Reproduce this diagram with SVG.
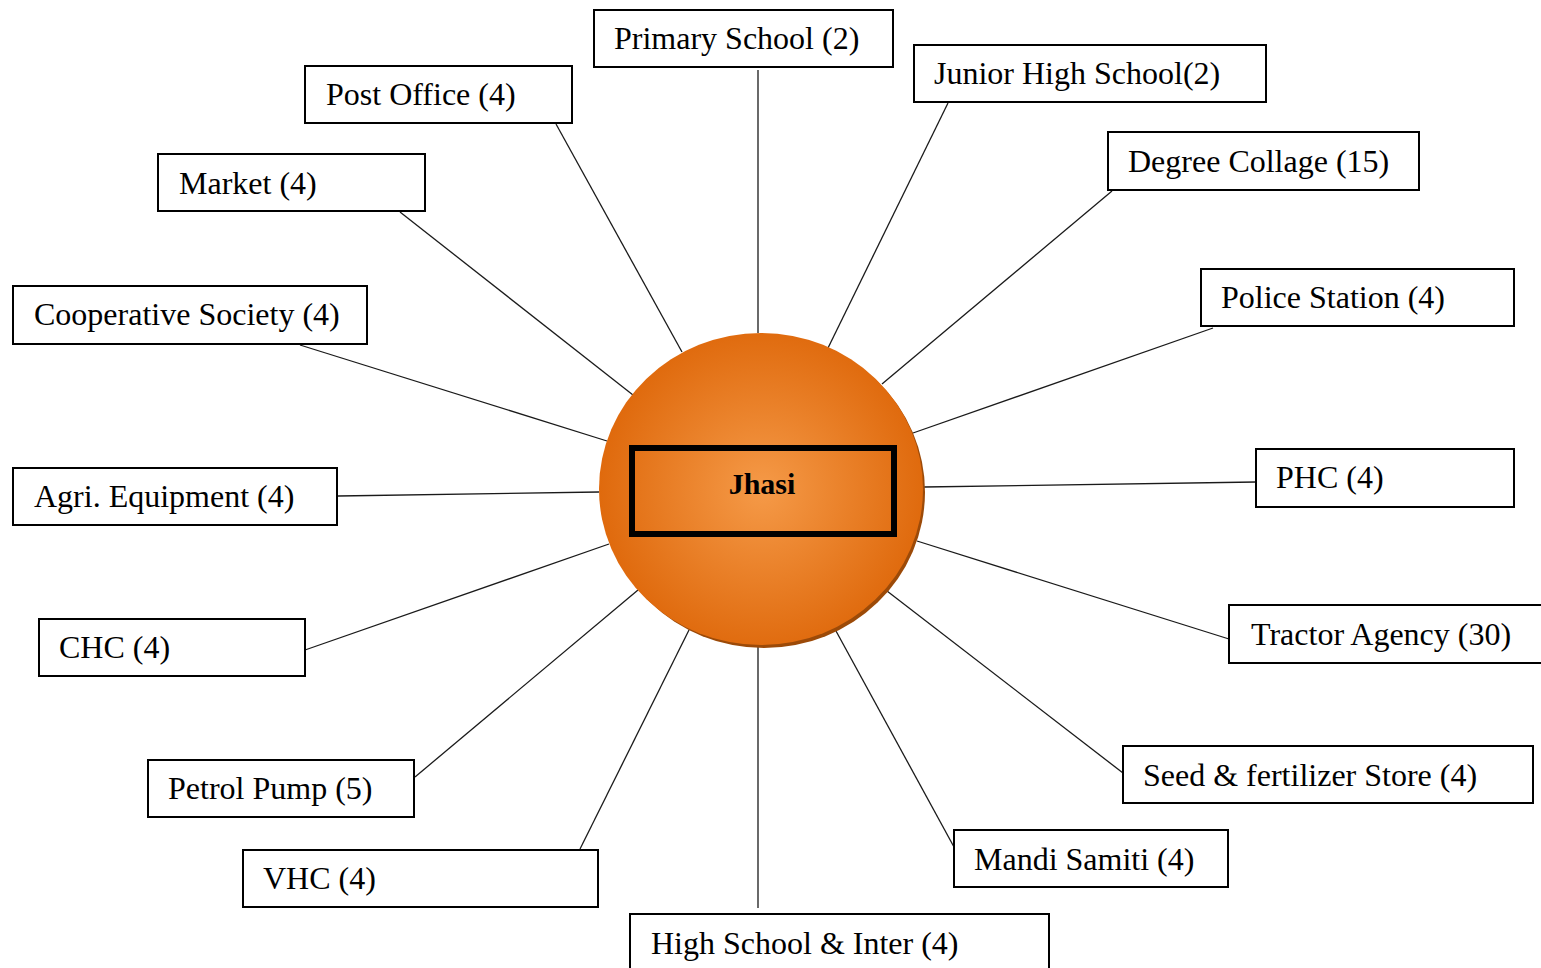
<svg xmlns="http://www.w3.org/2000/svg" width="1541" height="968" viewBox="0 0 1541 968">
<style>
.box{fill:#fff;stroke:#000;stroke-width:2}
.lbl{font-family:"Liberation Serif","Times New Roman",serif;font-size:32px;fill:#000}
.con line{stroke:#1a1a1a;stroke-width:1.3}
</style>
<defs>
<radialGradient id="og" cx="762" cy="490" r="165" gradientUnits="userSpaceOnUse">
<stop offset="0" stop-color="#F59A48"/>
<stop offset="1" stop-color="#DF690C"/>
</radialGradient>
</defs>
<rect width="1541" height="968" fill="#fff"/>
<g id="connectors" class="con">
<line x1="758" y1="70" x2="758" y2="333"/>
<line x1="556" y1="124" x2="682" y2="352"/>
<line x1="948" y1="103" x2="828" y2="348"/>
<line x1="400" y1="212" x2="633" y2="395"/>
<line x1="1112" y1="191" x2="882" y2="384"/>
<line x1="300" y1="345" x2="607" y2="441"/>
<line x1="1213" y1="328" x2="913" y2="433"/>
<line x1="338" y1="496" x2="599" y2="492"/>
<line x1="1256" y1="482" x2="924" y2="487"/>
<line x1="305" y1="650" x2="609" y2="544"/>
<line x1="1229" y1="639" x2="917" y2="541"/>
<line x1="415" y1="777" x2="638" y2="590"/>
<line x1="1123" y1="773" x2="887" y2="591"/>
<line x1="580" y1="849" x2="689" y2="630"/>
<line x1="954" y1="847" x2="836" y2="631"/>
<line x1="758" y1="908" x2="758" y2="646"/>
</g>
<g id="center">
<ellipse cx="764" cy="492" rx="161" ry="156" fill="#9C4A08"/>
<ellipse cx="761" cy="489" rx="162" ry="156" fill="url(#og)"/>
<rect x="632" y="448" width="262" height="86" fill="none" stroke="#000" stroke-width="6"/>
<text x="762" y="494" text-anchor="middle" font-family="'Liberation Serif','Times New Roman',serif" font-size="30" font-weight="bold">Jhasi</text>
</g>
<g id="n-primary"><rect class="box" x="594" y="10" width="299" height="57"/><text class="lbl" x="614" y="49">Primary School (2)</text></g>
<g id="n-post"><rect class="box" x="305" y="66" width="267" height="57"/><text class="lbl" x="326" y="105">Post Office (4)</text></g>
<g id="n-junior"><rect class="box" x="914" y="45" width="352" height="57"/><text class="lbl" x="934" y="84">Junior High School(2)</text></g>
<g id="n-market"><rect class="box" x="158" y="154" width="267" height="57"/><text class="lbl" x="179" y="194">Market (4)</text></g>
<g id="n-degree"><rect class="box" x="1108" y="132" width="311" height="58"/><text class="lbl" x="1128" y="172">Degree Collage (15)</text></g>
<g id="n-coop"><rect class="box" x="13" y="286" width="354" height="58"/><text class="lbl" x="34" y="325">Cooperative Society (4)</text></g>
<g id="n-police"><rect class="box" x="1201" y="269" width="313" height="57"/><text class="lbl" x="1221" y="308">Police Station (4)</text></g>
<g id="n-agri"><rect class="box" x="13" y="468" width="324" height="57"/><text class="lbl" x="34" y="507">Agri. Equipment (4)</text></g>
<g id="n-phc"><rect class="box" x="1256" y="449" width="258" height="58"/><text class="lbl" x="1276" y="488">PHC (4)</text></g>
<g id="n-chc"><rect class="box" x="39" y="619" width="266" height="57"/><text class="lbl" x="59" y="658">CHC (4)</text></g>
<g id="n-tractor"><rect class="box" x="1229" y="605" width="320" height="58"/><text class="lbl" x="1251" y="645">Tractor Agency (30)</text></g>
<g id="n-petrol"><rect class="box" x="148" y="760" width="266" height="57"/><text class="lbl" x="168" y="799">Petrol Pump (5)</text></g>
<g id="n-seed"><rect class="box" x="1123" y="746" width="410" height="57"/><text class="lbl" x="1143" y="786">Seed &amp; fertilizer Store (4)</text></g>
<g id="n-vhc"><rect class="box" x="243" y="850" width="355" height="57"/><text class="lbl" x="263" y="889">VHC (4)</text></g>
<g id="n-mandi"><rect class="box" x="954" y="830" width="274" height="57"/><text class="lbl" x="974" y="870">Mandi Samiti (4)</text></g>
<g id="n-high"><rect class="box" x="630" y="914" width="419" height="70"/><text class="lbl" x="651" y="954">High School &amp; Inter (4)</text></g>
</svg>
